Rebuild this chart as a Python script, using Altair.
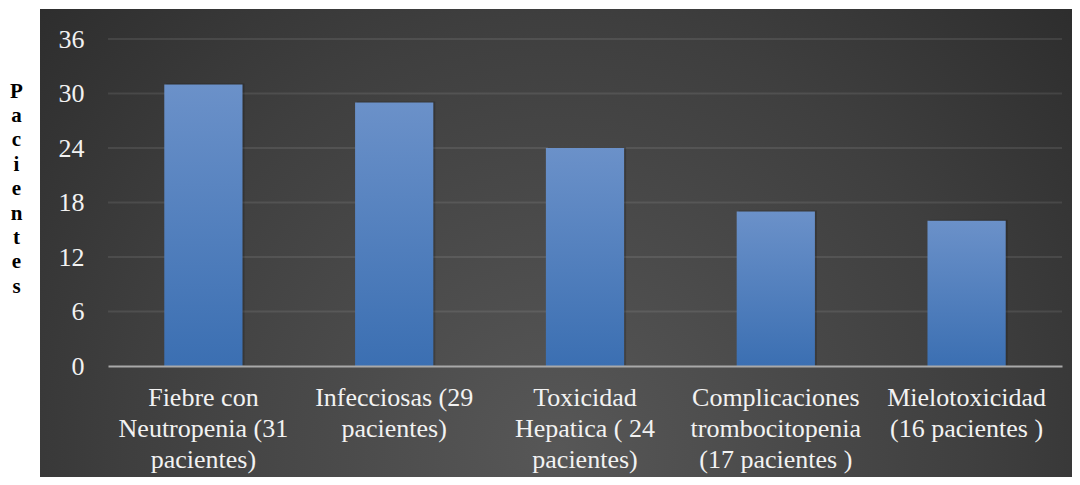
import altair as alt
import pandas as pd

categories = [
    "Fiebre con\nNeutropenia (31\npacientes)",
    "Infecciosas (29\npacientes)",
    "Toxicidad\nHepatica ( 24\npacientes)",
    "Complicaciones\ntrombocitopenia\n(17 pacientes )",
    "Mielotoxicidad\n(16 pacientes )",
]
values = [31, 29, 24, 17, 16]
y_ticks = [0, 6, 12, 18, 24, 30, 36]
y_title = "Pacientes"

df = pd.DataFrame({"cat": categories, "val": values})
grid_df = pd.DataFrame({"tick": y_ticks[1:]})

W, H = 954, 327
FONT = "Liberation Serif"

x_axis = alt.Axis(title=None, labelExpr="split(datum.label, '\\n')", zindex=2)
y_axis = alt.Axis(values=y_ticks, title=list(y_title), zindex=1)

x_enc = alt.X(
    "cat:N",
    sort=categories,
    scale=alt.Scale(paddingInner=0.59, paddingOuter=0.295),
    axis=x_axis,
)
y_enc = alt.Y(
    "val:Q",
    scale=alt.Scale(domain=[0, 36], nice=False),
    axis=y_axis,
)

bg = alt.Chart(pd.DataFrame({"k": [0]})).mark_rect(
    clip=False,
    fill=alt.RadialGradient(
        gradient="radial",
        stops=[
            alt.GradientStop(color="#575757", offset=0),
            alt.GradientStop(color="#3f3f3f", offset=0.55),
            alt.GradientStop(color="#272727", offset=1),
        ],
        x1=0.5, y1=0.7, r1=0,
        x2=0.5, y2=0.7, r2=0.75,
    ),
).encode(
    x=alt.value(-68), x2=alt.value(W + 10),
    y=alt.value(-30), y2=alt.value(H + 111),
)

grid = alt.Chart(grid_df).mark_rule(
    color="#ffffff", opacity=0.09, strokeWidth=2
).encode(
    y=alt.Y("tick:Q", scale=alt.Scale(domain=[0, 36], nice=False), axis=y_axis),
    x=alt.value(0), x2=alt.value(W),
)

shadow = alt.Chart(df).mark_bar(
    color="#000000", opacity=0.18, xOffset=2, yOffset=-1,
).encode(x=x_enc, y=y_enc)

bars = alt.Chart(df).mark_bar(
    fill=alt.LinearGradient(
        gradient="linear",
        stops=[
            alt.GradientStop(color="#3b6fb2", offset=0),
            alt.GradientStop(color="#6b91c9", offset=1),
        ],
        x1=0, x2=0, y1=1, y2=0,
    ),
).encode(x=x_enc, y=y_enc)

chart = alt.layer(bg, grid, shadow, bars).properties(
    width=W,
    height=H,
    autosize=alt.AutoSizeParams(type="none"),
    padding={"left": 100, "top": 31, "right": 10, "bottom": 111},
    background="#ffffff",
).configure_view(
    stroke=None
).configure_axisX(
    labelAngle=0,
    labelAlign="center",
    labelFont=FONT,
    labelFontSize=26,
    labelLineHeight=31,
    labelColor="#f2f2f2",
    labelPadding=18,
    labelLimit=400,
    labelBaseline="top",
    ticks=False,
    domain=True,
    domainColor="#a9a9a9",
    domainWidth=2,
    grid=False,
).configure_axisY(
    titleAngle=0,
    titleX=-92,
    titleY=58,
    titleAlign="center",
    titleBaseline="alphabetic",
    titleFont=FONT,
    titleFontSize=21,
    titleFontWeight="bold",
    titleColor="#000000",
    titleLineHeight=24.4,
    labelFont=FONT,
    labelFontSize=26,
    labelColor="#f2f2f2",
    labelPadding=24,
    domain=False,
    ticks=False,
    grid=False,
)

chart.save("out.html", embed_options={"renderer": "svg", "actions": False})
